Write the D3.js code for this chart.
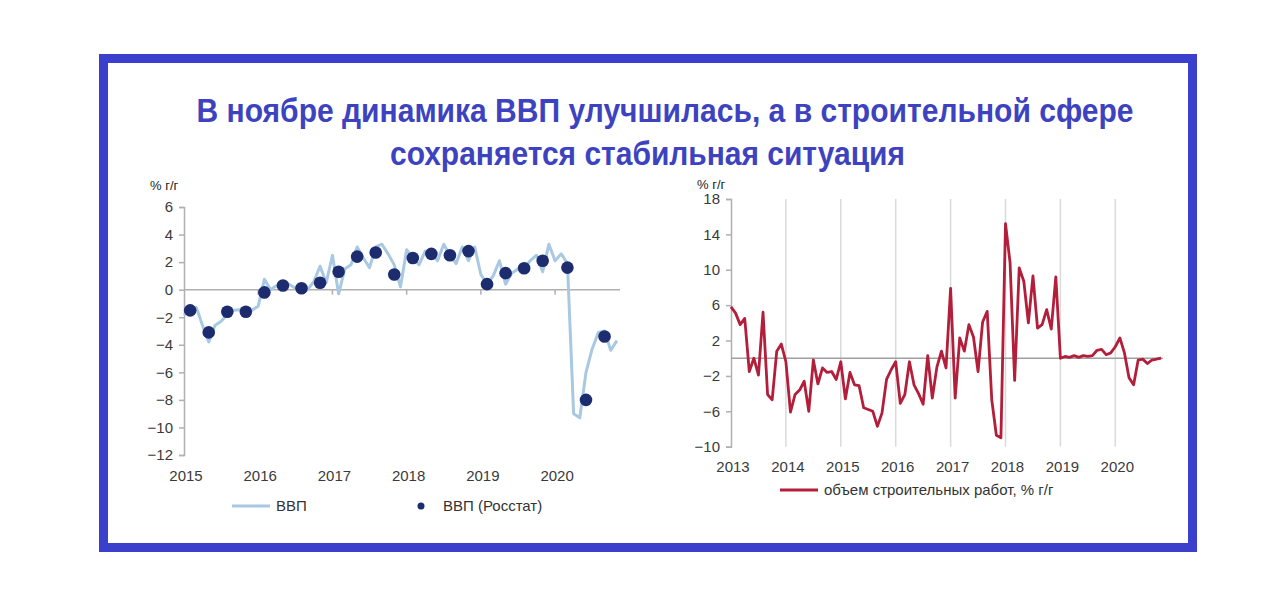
<!DOCTYPE html>
<html><head><meta charset="utf-8">
<script src="https://cdn.jsdelivr.net/npm/d3@7/dist/d3.min.js"></script>
<style>body{margin:0;background:#fff}svg{display:block}text{font-family:"Liberation Sans",Arial,sans-serif}</style>
</head><body><svg id="c" width="1280" height="597"></svg>
<script>
// ---------- DATA ----------
const titleLines = ["В ноябре динамика ВВП улучшилась, а в строительной сфере", "сохраняется стабильная ситуация"];
// Left chart: monthly GDP, Jan 2015 .. Nov 2020 (month index 0..70)
const gdpMonthly = [
 -1.85,-1.5,-1.3,-2.6,-3.8,-2.6,-2.3,-1.8,-1.5,-1.45,-1.6,-1.5,
 -1.2,0.75,0.0,0.3,0.2,0.4,0.1,-0.2,0.0,0.6,1.7,0.5,
 2.5,-0.3,1.5,1.8,3.1,2.3,1.6,3.1,3.3,2.6,1.8,0.2,
 2.9,2.3,1.8,2.8,2.6,2.1,3.3,2.5,1.9,3.1,2.1,3.1,
 1.1,0.4,1.0,2.1,0.4,1.2,1.5,1.6,2.1,2.5,1.3,3.3,
 2.1,2.6,1.9,-9.0,-9.3,-6.0,-4.3,-3.1,-3.0,-4.4,-3.7
];
// Rosstat quarterly GDP: month index of mark and value
const rosstatMonth = [1,4,7,10,13,16,19,22,25,28,31,34,37,40,43,46,49,52,55,58,62,65,68];
const rosstatValue = [-1.5,-3.1,-1.6,-1.6,-0.2,0.3,0.1,0.5,1.3,2.4,2.7,1.1,2.3,2.6,2.5,2.8,0.4,1.2,1.55,2.1,1.6,-8.0,-3.4];
const leftYears = ["2015","2016","2017","2018","2019","2020"];
const leftYTicks = [6,4,2,0,-2,-4,-6,-8,-10,-12];
// Right chart: construction volume, Jan 2013 .. Nov 2020 (month index 0..94)
const construction = [
 5.8,5.1,3.8,4.5,-1.5,0.0,-1.9,5.2,-4.1,-4.7,0.8,1.6,
 -0.4,-6.1,-4.1,-3.6,-2.6,-6.0,-0.2,-2.9,-1.1,-1.6,-1.5,-2.4,
 -0.4,-4.6,-1.6,-3.0,-3.1,-5.6,-5.8,-6.0,-7.7,-6.2,-2.4,-1.3,
 -0.4,-5.1,-4.1,-0.4,-3.0,-4.0,-5.2,0.3,-4.5,-1.0,0.8,-1.1,
 7.9,-4.5,2.3,0.8,3.8,2.4,-1.5,4.1,5.3,-4.7,-8.7,-9.0,
 15.2,10.8,-2.5,10.2,8.7,4.0,9.3,3.4,3.8,5.5,3.3,9.2,
 0.0,0.2,0.1,0.3,0.1,0.3,0.2,0.3,0.9,1.0,0.4,0.6,
 1.3,2.3,0.6,-2.2,-3.0,-0.2,-0.1,-0.6,-0.2,-0.1,0.0
];
const rightYears = ["2013","2014","2015","2016","2017","2018","2019","2020"];
const rightYTicks = [18,14,10,6,2,-2,-6,-10];
const unitLabel = "% г/г";
const legendLeft = ["ВВП","ВВП (Росстат)"];
const legendRight = "объем строительных работ, % г/г";

// ---------- DRAW ----------
const svg = d3.select("#c");
const frameColor = "#3a3fcc", titleColor = "#3d43c0";
svg.append("rect").attr("x",103.5).attr("y",58.5).attr("width",1089).attr("height",489)
  .attr("fill","#fff").attr("stroke",frameColor).attr("stroke-width",9);

const tWidths = [937, 515];
const tCenters = [665, 647.5];
const tY = [122, 165];
titleLines.forEach((t,i)=>{
  svg.append("text").attr("x",tCenters[i]).attr("y",tY[i]).attr("text-anchor","middle")
    .attr("font-size",34).attr("font-weight","bold").attr("fill",titleColor)
    .style("font-family","'Liberation Sans Narrow','Arial Narrow','Liberation Sans',Arial,sans-serif")
    .attr("textLength",tWidths[i]).attr("lengthAdjust","spacingAndGlyphs").text(t);
});

const tickColor = "#3a3a3a", axisColor = "#b0b0b0", fs = 15;

// ---- Left chart ----
const xL = d3.scaleLinear().domain([0,70.5]).range([184,620]);
const yL = d3.scaleLinear().domain([-12,6]).range([455,207]);
const gL = svg.append("g");
gL.append("text").attr("x",150).attr("y",190).attr("font-size",13).attr("fill","#222").text(unitLabel);
// y axis
const yAxisL = d3.axisLeft(yL).tickValues(leftYTicks).tickSize(5).tickPadding(6).tickFormat(d3.format("d"));
const ga = gL.append("g").attr("transform",`translate(${xL(0)},0)`).call(yAxisL);
ga.select(".domain").attr("stroke",axisColor).attr("stroke-width",1.5);
ga.selectAll(".tick line").attr("stroke",axisColor).attr("stroke-width",1.5);
ga.selectAll(".tick text").attr("font-size",fs).attr("fill",tickColor).attr("font-family","Liberation Sans, Arial, sans-serif");
// zero line with year ticks
gL.append("line").attr("x1",xL(0)).attr("x2",xL(70.5)).attr("y1",yL(0)).attr("y2",yL(0))
  .attr("stroke",axisColor).attr("stroke-width",1.5);
leftYears.forEach((y,i)=>{
  if(i>0) gL.append("line").attr("x1",xL(i*12)).attr("x2",xL(i*12)).attr("y1",yL(0)).attr("y2",yL(0)+5)
    .attr("stroke",axisColor).attr("stroke-width",1.5);
  gL.append("text").attr("x",xL(i*12)+2).attr("y",481).attr("text-anchor","middle")
    .attr("font-size",fs).attr("fill",tickColor).text(y);
});
const lineL = d3.line().x((d,i)=>xL(i)).y(d=>yL(d)).curve(d3.curveLinear);
gL.append("path").datum(gdpMonthly).attr("d",lineL).attr("fill","none")
  .attr("stroke","#a9c8e1").attr("stroke-width",3).attr("stroke-linejoin","round");
gL.selectAll("circle.r").data(rosstatMonth).enter().append("circle")
  .attr("cx",d=>xL(d)).attr("cy",(d,i)=>yL(rosstatValue[i])).attr("r",6.3).attr("fill","#1c2c6e");
// legend
gL.append("line").attr("x1",232).attr("x2",270).attr("y1",506).attr("y2",506).attr("stroke","#a9c8e1").attr("stroke-width",3);
gL.append("text").attr("x",276).attr("y",511).attr("font-size",fs).attr("fill","#333").text(legendLeft[0]);
gL.append("circle").attr("cx",421).attr("cy",506).attr("r",3.5).attr("fill","#1c2c6e");
gL.append("text").attr("x",443).attr("y",511).attr("font-size",fs).attr("fill","#333").text(legendLeft[1]);

// ---- Right chart ----
const xR = d3.scaleLinear().domain([0,96]).range([731,731+96*4.575]);
const yR = d3.scaleLinear().domain([-10,18]).range([446.7,199]);
const gR = svg.append("g");
gR.append("text").attr("x",697).attr("y",189).attr("font-size",13).attr("fill","#222").text(unitLabel);
rightYears.forEach((y,i)=>{
  if(i>0) gR.append("line").attr("x1",xR(i*12)).attr("x2",xR(i*12)).attr("y1",yR(18)).attr("y2",yR(-10))
    .attr("stroke","#dadada").attr("stroke-width",1.5);
  gR.append("text").attr("x",xR(i*12)+2).attr("y",472).attr("text-anchor","middle")
    .attr("font-size",fs).attr("fill",tickColor).text(y);
});
const yAxisR = d3.axisLeft(yR).tickValues(rightYTicks).tickSize(5).tickPadding(6).tickFormat(d3.format("d"));
const gb = gR.append("g").attr("transform",`translate(${xR(0)},0)`).call(yAxisR);
gb.select(".domain").attr("stroke",axisColor).attr("stroke-width",1.5);
gb.selectAll(".tick line").attr("stroke",axisColor).attr("stroke-width",1.5);
gb.selectAll(".tick text").attr("font-size",fs).attr("fill",tickColor).attr("font-family","Liberation Sans, Arial, sans-serif");
gR.append("line").attr("x1",xR(0)).attr("x2",xR(94.4)).attr("y1",yR(0)).attr("y2",yR(0))
  .attr("stroke","#a0a0a0").attr("stroke-width",1.5);
const lineR = d3.line().x((d,i)=>xR(i)).y(d=>yR(d));
gR.append("path").datum(construction).attr("d",lineR).attr("fill","none")
  .attr("stroke","#b31e3b").attr("stroke-width",2.8).attr("stroke-linejoin","round");
gR.append("line").attr("x1",780).attr("x2",818).attr("y1",490).attr("y2",490).attr("stroke","#b31e3b").attr("stroke-width",3);
gR.append("text").attr("x",824).attr("y",495).attr("font-size",fs).attr("fill","#333").text(legendRight);
</script></body></html>
